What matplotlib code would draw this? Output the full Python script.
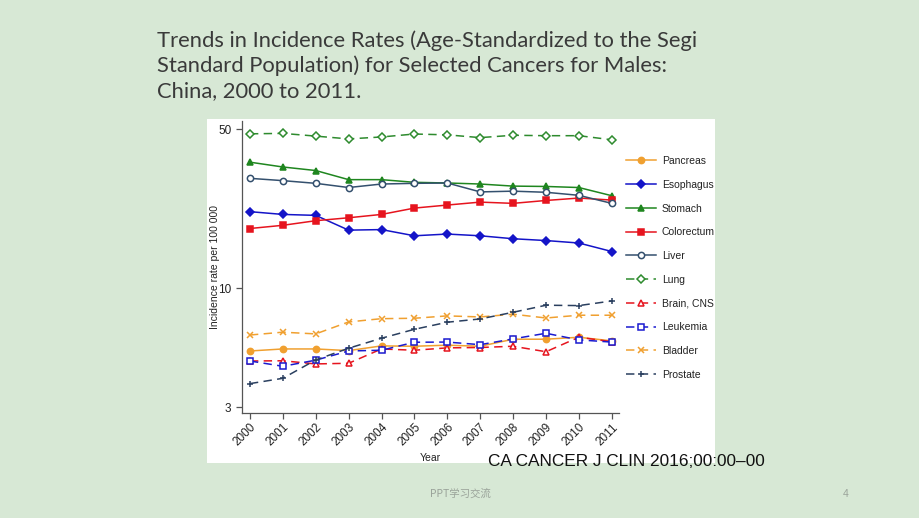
import numpy as np
import matplotlib
matplotlib.use("Agg")
import matplotlib.pyplot as plt
from matplotlib.patches import Rectangle
from matplotlib.ticker import FixedLocator, FixedFormatter, NullLocator

# Years and incidence rates per 100 000
years = [2000, 2001, 2002, 2003, 2004, 2005, 2006, 2007, 2008, 2009, 2010, 2011]

pancreas   = [5.30, 5.41, 5.41, 5.32, 5.58, 5.56, 5.62, 5.56, 5.97, 5.97, 6.09, 5.87]
esophagus  = [21.7, 21.1, 20.9, 18.0, 18.1, 17.0, 17.3, 17.0, 16.5, 16.2, 15.8, 14.5]
stomach    = [35.8, 34.1, 32.9, 30.0, 30.0, 29.2, 29.0, 28.7, 28.1, 28.0, 27.7, 25.5]
colorectum = [18.3, 18.9, 19.8, 20.4, 21.1, 22.5, 23.2, 23.9, 23.6, 24.3, 24.9, 24.4]
liver      = [30.4, 29.7, 28.9, 27.7, 28.7, 28.9, 29.0, 26.5, 26.7, 26.4, 25.6, 23.6]
lung       = [47.7, 47.9, 46.6, 45.3, 46.2, 47.6, 47.2, 45.9, 47.0, 46.8, 46.8, 44.9]
brain_cns  = [4.79, 4.80, 4.65, 4.68, 5.41, 5.34, 5.47, 5.49, 5.56, 5.26, 6.09, 5.82]
leukemia   = [4.79, 4.54, 4.83, 5.30, 5.34, 5.79, 5.80, 5.65, 5.99, 6.34, 5.93, 5.80]
bladder    = [6.23, 6.41, 6.30, 7.11, 7.35, 7.38, 7.56, 7.48, 7.69, 7.40, 7.61, 7.61]
prostate   = [3.81, 4.02, 4.84, 5.45, 6.03, 6.60, 7.09, 7.33, 7.84, 8.42, 8.39, 8.79]

y_ticks = [3, 10, 50]

title = ("Trends in Incidence Rates (Age-Standardized to the Segi\n"
         "Standard Population) for Selected Cancers for Males:\n"
         "China, 2000 to 2011.")

plt.rcParams["font.family"] = ["Liberation Sans", "DejaVu Sans"]

fig = plt.figure(figsize=(9.2, 5.18), dpi=100)
fig.patch.set_facecolor("#d7e8d5")

# white panel holding the chart
fig.patches.append(Rectangle((207 / 920, 1 - 463 / 518), 508 / 920, 344 / 518,
                             transform=fig.transFigure, facecolor="white",
                             edgecolor="none", zorder=-1))

ax = fig.add_axes([241.7 / 920, 1 - 413 / 518, (619 - 241.7) / 920, (413 - 121) / 518])
ax.set_zorder(2)
ax.set_facecolor("white")

ms = 4.5
lw = 1.1
dash = (5.5, 3.5)

series = [
    ("Pancreas", pancreas, "#f0a030", "o", True, "-"),
    ("Esophagus", esophagus, "#1414c8", "D", True, "-"),
    ("Stomach", stomach, "#1f861f", "^", True, "-"),
    ("Colorectum", colorectum, "#e6141e", "s", True, "-"),
    ("Liver", liver, "#34506e", "o", False, "-"),
    ("Lung", lung, "#2e8b2e", "D", False, "--"),
    ("Brain, CNS", brain_cns, "#e6141e", "^", False, "--"),
    ("Leukemia", leukemia, "#1a1ad0", "s", False, "--"),
    ("Bladder", bladder, "#f0a030", "x", True, "--"),
    ("Prostate", prostate, "#2a3f5f", "+", True, "--"),
]

for name, vals, col, mk, filled, ls in series:
    kw = dict(color=col, marker=mk, markersize=ms, linewidth=lw, label=name,
              markeredgewidth=1.1)
    if not filled:
        kw["markerfacecolor"] = "white"
    line, = ax.plot(years, vals, **kw)
    if ls == "--":
        line.set_dashes(dash)

ax.set_yscale("log")
ax.set_ylim(2.83, 54.3)
ax.set_xlim(1999.75, 2011.22)
ax.yaxis.set_major_locator(FixedLocator(y_ticks))
ax.yaxis.set_major_formatter(FixedFormatter([str(t) for t in y_ticks]))
ax.yaxis.set_minor_locator(NullLocator())
ax.set_xticks(years)
ax.set_xticklabels([str(y) for y in years], rotation=45, ha="right",
                   rotation_mode="anchor")

for s in ["top", "right"]:
    ax.spines[s].set_visible(False)
for s in ["left", "bottom"]:
    ax.spines[s].set_color("#555555")
    ax.spines[s].set_linewidth(0.9)
ax.tick_params(axis="both", colors="#555555", labelcolor="#222222",
               labelsize=8.5, length=4, width=0.9)
ax.tick_params(axis="x", pad=2)

ax.set_xlabel("Year", fontsize=7.5, color="#222222", labelpad=3)
ax.set_ylabel("Incidence rate per 100 000", fontsize=7.5, color="#222222")
ax.yaxis.set_label_coords(-0.058, 0.5)

handles, labels = ax.get_legend_handles_labels()
fig.legend(handles, labels, loc="upper left",
           bbox_to_anchor=(626 / 920, 1 - 156 / 518),
           frameon=False, fontsize=7.5, labelspacing=1.32,
           handlelength=2.9, handletextpad=0.55, borderpad=0,
           borderaxespad=0, labelcolor="#222222")

fig.text(157 / 920, 1 - 30 / 518, title, ha="left", va="top",
         fontsize=15.8, color="#3a3a3a", family=["Lato", "DejaVu Sans"],
         linespacing=1.3)

fig.text(488 / 920, 1 - 462 / 518, "CA CANCER J CLIN 2016;00:00\u201300",
         ha="left", va="center", fontsize=12.4, color="#111111")

fig.text(460 / 920, 1 - 494 / 518, "PPT学习交流", ha="center", va="center",
         fontsize=7.5, color="#9aa39a",
         family=["Noto Sans CJK SC", "DejaVu Sans"])
fig.text(846 / 920, 1 - 494 / 518, "4", ha="center", va="center",
         fontsize=7.5, color="#9aa39a")

fig.savefig("out.png", dpi=100, facecolor=fig.get_facecolor())
